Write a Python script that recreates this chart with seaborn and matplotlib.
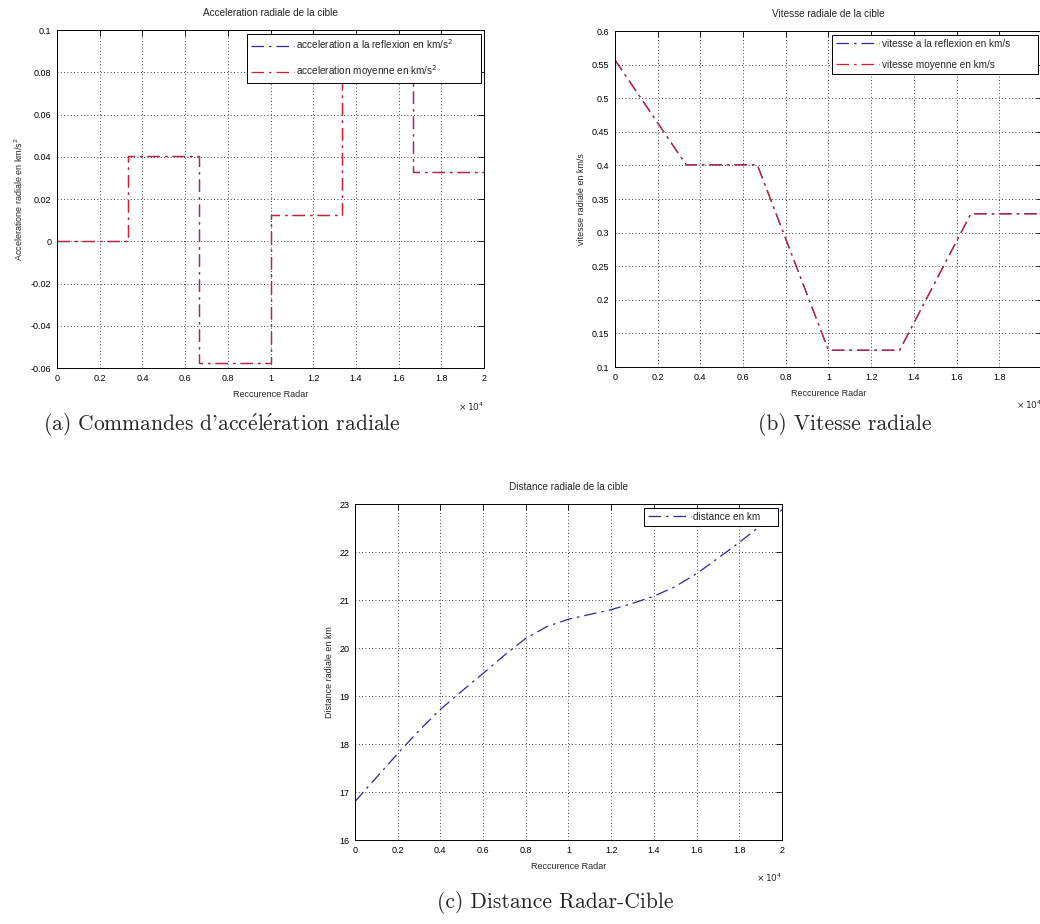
import numpy as np
import pandas as pd
import seaborn as sns
import matplotlib.pyplot as plt
from matplotlib.ticker import FuncFormatter, MultipleLocator

# =========================
# DATA (recurrence index, axis shown in units of 10^4)
# =========================
acc_x = [0, 3333, 3333, 6667, 6667, 10000, 10000, 13333, 13333, 16667, 16667, 20000]
acc_refl = [0, 0, 0.0405, 0.0405, -0.0578, -0.0578, 0.0125, 0.0125, 0.09, 0.09, 0.033, 0.033]
acc_moy = [0, 0, 0.0405, 0.0405, -0.0578, -0.0578, 0.0125, 0.0125, 0.09, 0.09, 0.033, 0.033]

vit_x = [0, 3333, 6667, 10000, 13333, 16667, 20000]
vit_refl = [0.557, 0.401, 0.401, 0.125, 0.125, 0.328, 0.328]
vit_moy = [0.557, 0.401, 0.401, 0.125, 0.125, 0.328, 0.328]

dist_x = [0, 1000, 2000, 3000, 4000, 5000, 6000, 7000, 8000, 9000, 10000,
          11000, 12000, 13000, 14000, 15000, 16000, 17000, 18000, 19000, 20000]
dist_km = [16.8, 17.3, 17.8, 18.28, 18.72, 19.1, 19.47, 19.85, 20.2, 20.45, 20.6,
           20.7, 20.8, 20.93, 21.08, 21.28, 21.55, 21.87, 22.2, 22.55, 22.88]

x_ticks = [0, 2000, 4000, 6000, 8000, 10000, 12000, 14000, 16000, 18000, 20000]

BLUE = "#2a2a9c"
RED = "#cc1f30"
DASH = (0, (10, 4, 2, 4))
SMALL = 7.2

sns.set_style("white")
plt.rcParams["font.family"] = ["Liberation Sans", "DejaVu Sans"]
plt.rcParams["axes.unicode_minus"] = False

fig = plt.figure(figsize=(10.4, 9.24), dpi=100)

ax_a = fig.add_axes([0.0548, 0.6017, 0.4106, 0.3658])
ax_b = fig.add_axes([0.5913, 0.6028, 0.4106, 0.3636])
ax_c = fig.add_axes([0.3413, 0.0909, 0.4106, 0.3636])


def style_axes(ax, ymin, ymax, ystep):
    ax.set_xlim(0, 20000)
    ax.set_ylim(ymin, ymax)
    ax.set_xticks(x_ticks)
    ax.xaxis.set_major_formatter(FuncFormatter(lambda v, p: "%g" % (v / 1e4)))
    ax.yaxis.set_major_locator(MultipleLocator(ystep))
    ax.yaxis.set_major_formatter(FuncFormatter(lambda v, p: "%g" % round(v, 4)))
    ax.tick_params(direction="in", length=4, width=0.6, labelsize=6.5,
                   top=True, right=True, pad=4, colors="black")
    ax.grid(True, color="black", linestyle=(0, (1, 3)), linewidth=0.6)
    for s in ax.spines.values():
        s.set_color("black")
        s.set_linewidth(0.7)
    ax.set_xlabel("Reccurence Radar", fontsize=6.5, labelpad=5)
    ax.text(1.0, -0.095, r"$\times\,10^{4}$", transform=ax.transAxes,
            ha="right", va="top", fontsize=6.5)


def draw_legend(ax, **kw):
    leg = ax.legend(loc="upper right", fontsize=SMALL, frameon=True, fancybox=False,
                    edgecolor="black", framealpha=1, handlelength=4.3,
                    handletextpad=0.25, borderaxespad=0.35, borderpad=0.4, **kw)
    leg.get_frame().set_linewidth(0.7)
    return leg


def draw_line(ax, x, y, color, label):
    sns.lineplot(x=x, y=y, ax=ax, color=color, linestyle=DASH, linewidth=0.9,
                 sort=False, estimator=None, errorbar=None, label=label)


PAD = " " * 9

# (a) acceleration
draw_line(ax_a, acc_x, acc_refl, BLUE, r"acceleration a la reflexion en km/s$^2$" + PAD)
draw_line(ax_a, acc_x, acc_moy, RED, r"acceleration moyenne en km/s$^2$")
style_axes(ax_a, -0.06, 0.1, 0.02)
ax_a.set_title("Acceleration radiale de la cible", fontsize=SMALL, pad=10)
ax_a.set_ylabel(r"Acceleratione radiale en km/s$^2$", fontsize=6.5, labelpad=4)
draw_legend(ax_a, labelspacing=1.2)

# (b) vitesse
draw_line(ax_b, vit_x, vit_refl, BLUE, "vitesse a la reflexion en km/s" + PAD)
draw_line(ax_b, vit_x, vit_moy, RED, "vitesse moyenne en km/s")
style_axes(ax_b, 0.1, 0.6, 0.05)
ax_b.set_title("Vitesse radiale de la cible", fontsize=SMALL, pad=10)
ax_b.set_ylabel("vitesse radiale en km/s", fontsize=6.5, labelpad=4)
draw_legend(ax_b, labelspacing=1.1)

# (c) distance
draw_line(ax_c, dist_x, dist_km, BLUE, "distance en km" + " " * 5)
style_axes(ax_c, 16, 23, 1)
ax_c.set_title("Distance radiale de la cible", fontsize=SMALL, pad=10)
ax_c.set_ylabel("Distance radiale en km", fontsize=6.5, labelpad=4)
draw_legend(ax_c)

# sub-captions
cap = dict(ha="left", va="center", fontsize=15.5, family=["cmr10", "DejaVu Serif"],
           math_fontfamily="cm")
fig.text(43 / 1040, 1 - 424 / 924,
         "(a) Commandes d'acc$\\mathrm{\\acute{e}}$l$\\mathrm{\\acute{e}}$ration radiale", **cap)
fig.text(758 / 1040, 1 - 424 / 924, "(b) Vitesse radiale", **cap)
fig.text(437 / 1040, 1 - 903 / 924, "(c) Distance Radar-Cible", **cap)

fig.savefig("out.png", dpi=100)
plt.close(fig)
